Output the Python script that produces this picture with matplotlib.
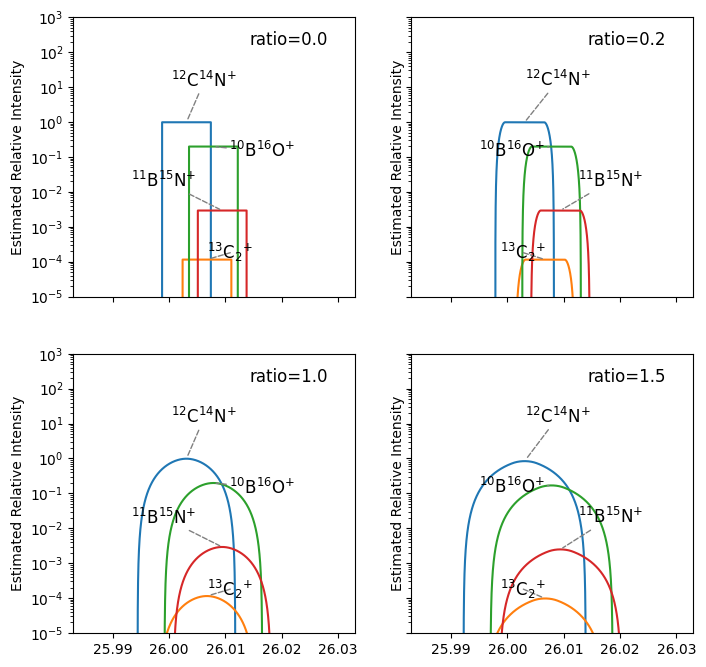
import numpy as np
import matplotlib
matplotlib.use("Agg")
import matplotlib.pyplot as plt

# ---- data ----
species = [r"$^{12}$C$^{14}$N$^{+}$", r"$^{13}$C$_2$$^{+}$",
           r"$^{10}$B$^{16}$O$^{+}$", r"$^{11}$B$^{15}$N$^{+}$"]
masses = [26.003074, 26.006710, 26.007852, 26.009414]
abundances = [0.9893 * 0.99636, 0.0107 * 0.0107, 0.199 * 0.99757, 0.801 * 0.00364]
colors = ["C0", "C1", "C2", "C3"]
ratios = [0.0, 0.2, 1.0, 1.5]
resolution = 3000.0

# label positions (axes fraction) for the two layouts used
layout_a = [(0.465, 0.772), (0.557, 0.157), (0.670, 0.520), (0.321, 0.413)]
layout_b = [(0.520, 0.774), (0.397, 0.157), (0.356, 0.522), (0.707, 0.414)]
layouts = [layout_a, layout_b, layout_a, layout_b]


def peak_shape(x, center, height, width, ratio):
    b = width / 2.0
    if ratio == 0:
        y = np.where(np.abs(x - center) <= b, height, 0.0)
    else:
        a = ratio * b

        def cdf(t):
            u = np.clip(t / a, -1.0, 1.0)
            return 0.5 + 0.75 * u - 0.25 * u ** 3

        y = height * (cdf(x - center + b) - cdf(x - center - b))
    return np.where(y > 0, y, 1e-30)


x = np.linspace(25.983, 26.033, 40001)

fig, axes = plt.subplots(2, 2, sharex=True, sharey=True, figsize=(7.06, 6.67), dpi=100)
fig.subplots_adjust(left=0.1038, right=0.982, bottom=0.051, top=0.974,
                    wspace=0.2, hspace=0.205)

for i, (ax, ratio, lay) in enumerate(zip(axes.flat, ratios, layouts)):
    for name, m, h, c, pos in zip(species, masses, abundances, colors, lay):
        w = m / resolution
        y = peak_shape(x, m, h, w, ratio)
        ax.plot(x, y, color=c, lw=1.5)
        ymax = y.max()
        ax.annotate(name, xy=(m, ymax), xytext=pos, textcoords="axes fraction",
                    ha="center", va="center", fontsize=12,
                    arrowprops=dict(arrowstyle="-", linestyle="--", color="gray",
                                    lw=1, shrinkA=0, shrinkB=2))
    ax.set_yscale("log")
    ax.set_ylim(1e-5, 1e3)
    ax.set_xlim(25.983, 26.033)
    ax.set_ylabel("Estimated Relative Intensity", labelpad=(1 if i % 2 else 4))
    ax.text(0.624, 0.9, f"ratio={ratio:.1f}", transform=ax.transAxes, fontsize=12,
            ha="left", va="baseline")
    ax.set_xticks([25.99, 26.00, 26.01, 26.02, 26.03])
    ax.set_xticklabels(["25.99", "26.00", "26.01", "26.02", "26.03"])

fig.savefig("out.png", dpi=100)
